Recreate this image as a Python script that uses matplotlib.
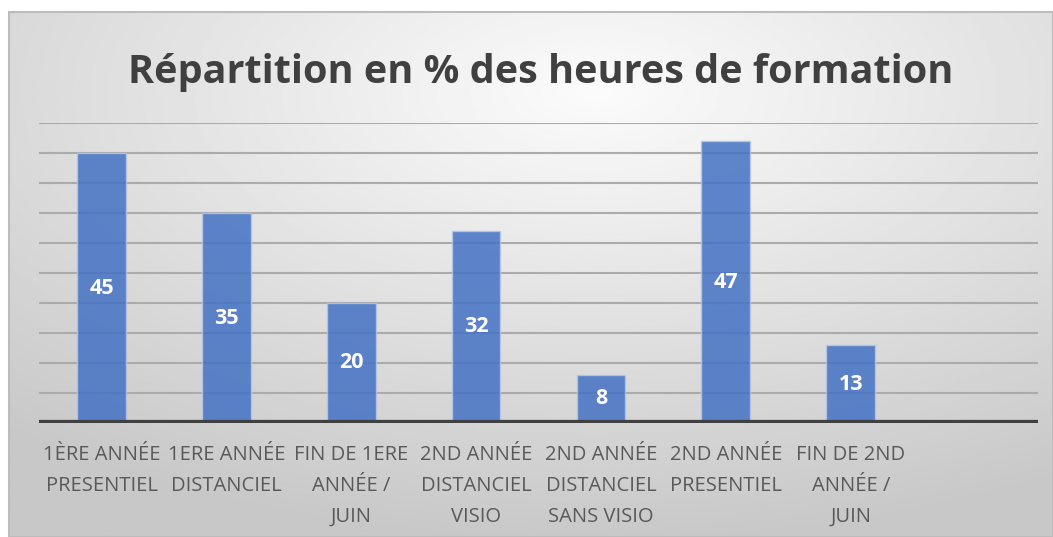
import matplotlib.pyplot as plt
import numpy as np
from matplotlib.patches import Rectangle

# Données
categories = ['1ÈRE ANNÉE\nPRESENTIEL', '1ERE ANNÉE\nDISTANCIEL', 'FIN DE 1ERE\nANNÉE /\nJUIN',
              '2ND ANNÉE\nDISTANCIEL\nVISIO', '2ND ANNÉE\nDISTANCIEL\nSANS VISIO',
              '2ND ANNÉE\nPRESENTIEL', 'FIN DE 2ND\nANNÉE /\nJUIN', '']
valeurs = [45, 35, 20, 32, 8, 47, 13, None]
grille = [5, 10, 15, 20, 25, 30, 35, 40, 45, 50]
titre = 'Répartition en % des heures de formation'

plt.rcParams['font.family'] = ['Open Sans', 'DejaVu Sans']

W, H = 1053, 537
fig = plt.figure(figsize=(W / 100, H / 100), dpi=100)
fig.patch.set_facecolor('white')

# Fond en dégradé radial (cadre du graphique)
fx0, fy0 = 9, 12
bg = fig.add_axes([fx0 / W, 0, (W - fx0) / W, (H - fy0) / H])
bg.set_axis_off()
yy, xx = np.mgrid[0:200, 0:400]
cx, cy = 0.56 * 400, 0.15 * 200
d = np.sqrt(((xx - cx) / 400) ** 2 + ((yy - cy) / 200) ** 2)
d = np.clip(d / 0.85, 0, 1)
img = 0.985 - 0.20 * d
bg.imshow(img, cmap='gray', vmin=0, vmax=1, aspect='auto', extent=[0, 1, 0, 1])
bg.add_patch(Rectangle((0, 0), 1, 1, transform=bg.transAxes, fill=False,
                       edgecolor='#bcbcbc', linewidth=1.5, clip_on=False))
bg.set_xlim(0, 1)
bg.set_ylim(0, 1)

# Zone de tracé
x0, x1, ybase, ytop = 39, 1038, 423, 123
ax = fig.add_axes([x0 / W, (H - ybase) / H, (x1 - x0) / W, (ybase - ytop) / H])
ax.patch.set_alpha(0)

x = np.arange(len(categories))
hauteurs = [v if v is not None else 0 for v in valeurs]
for g in grille:
    ax.axhline(g, color='#ababab', linewidth=1.5, zorder=1)
bars = ax.bar(x, hauteurs, width=0.39, color='#4472c4', alpha=0.85,
              edgecolor='#b4c7e7', linewidth=1, zorder=2)
for xi, v in zip(x, valeurs):
    if v is None:
        continue
    ax.text(xi, v / 2, str(v), ha='center', va='center', color='white',
            fontsize=15.5, fontweight='bold', zorder=3)

ax.axhline(0, color='#404040', linewidth=4.5, zorder=4)
ax.set_xlim(-0.5, len(categories) - 0.5)
ax.set_ylim(0, 50)
ax.set_yticks([])
ax.set_xticks(x)
ax.set_xticklabels(categories, fontsize=14.5, color='#595959', linespacing=1.72)
ax.tick_params(axis='x', length=0, pad=16)
for s in ax.spines.values():
    s.set_visible(False)

fig.text(541 / W, 1 - 72 / H, titre, ha='center', va='center', fontsize=28.5,
         fontweight='bold', color='#404040')

fig.savefig('out.png', dpi=100)
